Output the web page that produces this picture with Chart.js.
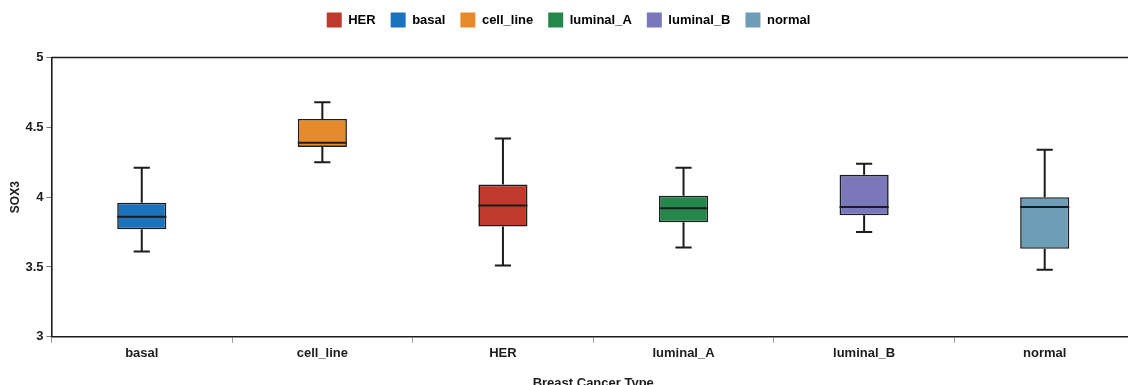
<!DOCTYPE html>
<html>
<head>
<meta charset="utf-8">
<title>SOX3 expression by breast cancer type</title>
<script src="https://cdn.jsdelivr.net/npm/chart.js@4.4.1/dist/chart.umd.min.js"></script>
<style>
  html, body { margin: 0; padding: 0; background: #ffffff; overflow: hidden; }
  #wrap { position: relative; width: 1140px; height: 392px; }
</style>
</head>
<body>
<div id="wrap"><canvas id="chart"></canvas></div>
<script>
// Breast cancer subtypes along the x axis
const categories = ['basal', 'cell_line', 'HER', 'luminal_A', 'luminal_B', 'normal'];

// Five-number summaries of SOX3 expression per subtype
const whiskerLow  = [3.61, 4.25, 3.51, 3.64, 3.75, 3.48];
const quartile1   = [3.77, 4.36, 3.79, 3.82, 3.87, 3.63];
const medians     = [3.86, 4.39, 3.94, 3.92, 3.93, 3.93];
const quartile3   = [3.96, 4.56, 4.09, 4.01, 4.16, 4.00];
const whiskerHigh = [4.21, 4.68, 4.42, 4.21, 4.24, 4.34];

// Y axis ticks
const yTicks = [3, 3.5, 4, 4.5, 5];

// Subtype colours and legend order
const subtypeColors = {
  HER: '#c0392a',
  basal: '#1b73bd',
  cell_line: '#e68a2c',
  luminal_A: '#24874c',
  luminal_B: '#7a77ba',
  normal: '#6d9db7'
};
const legendOrder = ['HER', 'basal', 'cell_line', 'luminal_A', 'luminal_B', 'normal'];

const FONT = '"Liberation Sans", Arial, Helvetica, sans-serif';
const INK = '#1c1c1c';

// Whiskers, caps, medians and the top frame line
const boxDecor = {
  id: 'boxDecor',
  afterDatasetsDraw(chart) {
    const { ctx, chartArea, scales: { y } } = chart;
    const bars = chart.getDatasetMeta(0).data;
    ctx.save();
    ctx.strokeStyle = INK;
    ctx.lineCap = 'butt';
    bars.forEach((bar, i) => {
      const cx = bar.x;
      const half = bar.width / 2;
      const capHalf = bar.width * 0.165;
      const yLow = y.getPixelForValue(whiskerLow[i]);
      const yHigh = y.getPixelForValue(whiskerHigh[i]);
      const yQ1 = y.getPixelForValue(quartile1[i]);
      const yQ3 = y.getPixelForValue(quartile3[i]);
      const yMed = y.getPixelForValue(medians[i]);
      ctx.lineWidth = 2;
      ctx.beginPath();
      ctx.moveTo(cx, yQ3); ctx.lineTo(cx, yHigh);
      ctx.moveTo(cx, yQ1); ctx.lineTo(cx, yLow);
      ctx.moveTo(cx - capHalf, yHigh); ctx.lineTo(cx + capHalf, yHigh);
      ctx.moveTo(cx - capHalf, yLow); ctx.lineTo(cx + capHalf, yLow);
      ctx.stroke();
      ctx.beginPath();
      ctx.moveTo(cx - half, yMed); ctx.lineTo(cx + half, yMed);
      ctx.stroke();
    });
    ctx.lineWidth = 1.6;
    ctx.beginPath();
    ctx.moveTo(chartArea.left, chartArea.top);
    ctx.lineTo(chartArea.right, chartArea.top);
    ctx.stroke();
    ctx.restore();
  }
};

// Extra space between the legend and the plot
const legendGap = {
  id: 'legendGap',
  beforeInit(chart) {
    const origFit = chart.legend.fit;
    chart.legend.fit = function () {
      origFit.bind(chart.legend)();
      this.height += 20;
    };
  }
};

new Chart(document.getElementById('chart'), {
  type: 'bar',
  data: {
    labels: categories,
    datasets: [{
      label: 'SOX3',
      data: categories.map((c, i) => [quartile1[i], quartile3[i]]),
      backgroundColor: categories.map(c => subtypeColors[c]),
      borderColor: INK,
      borderWidth: 1.6,
      borderSkipped: false,
      barPercentage: 0.272,
      categoryPercentage: 1.0
    }]
  },
  options: {
    responsive: true,
    maintainAspectRatio: false,
    animation: false,
    layout: { padding: { top: -2.5, left: 2, right: 5, bottom: 1 } },
    plugins: {
      tooltip: { enabled: false },
      legend: {
        position: 'top',
        onClick: null,
        labels: {
          boxWidth: 15,
          boxHeight: 15,
          padding: 15,
          color: INK,
          font: { family: FONT, size: 13, weight: 'bold' },
          generateLabels() {
            return legendOrder.map(name => ({
              text: name,
              fillStyle: subtypeColors[name],
              strokeStyle: subtypeColors[name],
              lineWidth: 0,
              hidden: false
            }));
          }
        }
      }
    },
    scales: {
      x: {
        offset: true,
        grid: {
          offset: true,
          drawOnChartArea: false,
          drawTicks: true,
          tickLength: 6,
          color: '#9a9a9a'
        },
        border: { display: true, color: INK, width: 1.6 },
        ticks: {
          color: INK,
          padding: 3,
          font: { family: FONT, size: 13, weight: 'bold' }
        },
        title: {
          display: true,
          text: 'Breast Cancer Type',
          color: INK,
          padding: { top: 11, bottom: 0 },
          font: { family: FONT, size: 13, weight: 'bold' }
        }
      },
      y: {
        min: 3,
        max: 5,
        afterBuildTicks(axis) { axis.ticks = yTicks.map(v => ({ value: v })); },
        grid: {
          drawOnChartArea: false,
          drawTicks: true,
          tickLength: 5,
          color: '#777777'
        },
        border: { display: true, color: INK, width: 1.6 },
        ticks: {
          color: INK,
          padding: 3,
          font: { family: FONT, size: 13, weight: 'bold' },
          callback: v => String(v)
        },
        title: {
          display: true,
          text: 'SOX3',
          color: INK,
          padding: { top: 6, bottom: 0 },
          font: { family: FONT, size: 12, weight: 'bold' }
        }
      }
    }
  },
  plugins: [boxDecor, legendGap]
});
</script>
</body>
</html>
